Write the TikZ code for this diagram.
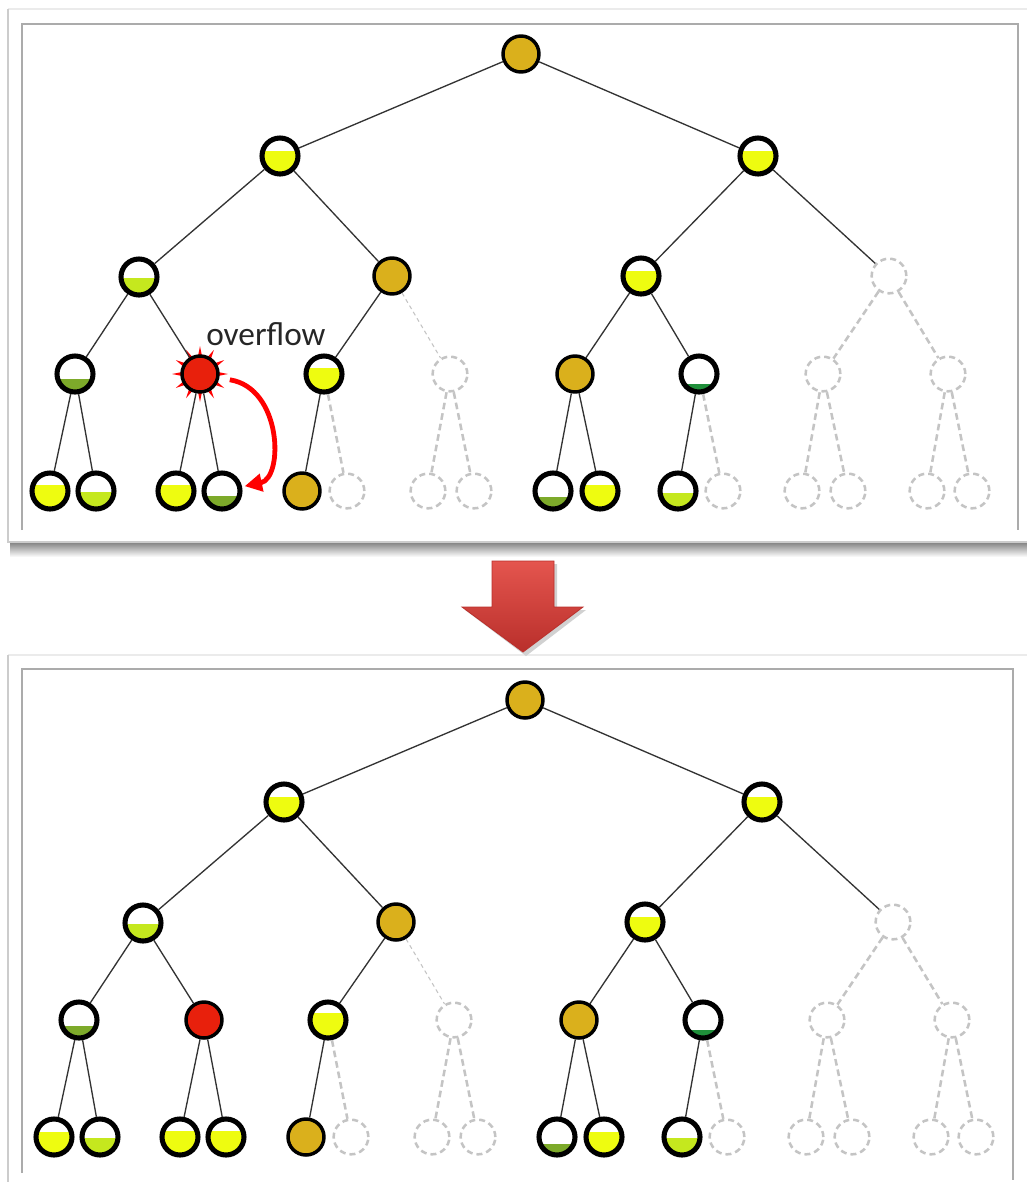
\documentclass[tikz,border=0pt]{standalone}
\usepackage{fontspec}
\setmainfont{Carlito}
\usetikzlibrary{arrows.meta,calc}
\definecolor{cgold}{HTML}{DAB01C}
\definecolor{cyel}{HTML}{EEFC10}
\definecolor{clg}{HTML}{C5E81E}
\definecolor{coli}{HTML}{7DAA2A}
\definecolor{cdk}{HTML}{1F8F3A}
\definecolor{cred}{HTML}{E8200C}
\definecolor{cghost}{HTML}{C4C4C4}
\definecolor{arrtop}{HTML}{E4554E}
\definecolor{arrbot}{HTML}{B92F2B}
\tikzset{
  nd/.style={circle, minimum size=27pt, inner sep=0pt, fill=white, draw=black, line width=3.8pt},
  lvl/.style 2 args={nd, path picture={\fill[#1] ([yshift=-3pt]path picture bounding box.south west) rectangle ([yshift={#2*27pt}]path picture bounding box.south east);}},
  full/.style={circle, minimum size=27pt, inner sep=0pt, fill=#1, draw=black, line width=2.6pt},
  ghost/.style={circle, minimum size=26pt, inner sep=0pt, fill=white, draw=cghost, line width=1.9pt, dash pattern=on 4.5pt off 3pt},
  edge/.style={draw=black!80, line width=1pt},
  thindash/.style={draw=cghost, line width=0.8pt, dash pattern=on 3pt off 2.5pt},
  thickdash/.style={draw=cghost, line width=1.9pt, dash pattern=on 5pt off 3pt},
  outerframe/.style={draw=black!20, line width=1.6pt},
  innerframe/.style={draw=black!33, line width=1.3pt},
  overflowarrow/.style={draw=red, line width=3.6pt, -{Triangle[length=13pt,width=13pt]}},
  spike/.style={fill=red},
}
\begin{document}
\begin{tikzpicture}[x=0.75pt,y=-0.75pt]
\useasboundingbox (0,0) rectangle (1027,1182);
% ---------- panel frames ----------
\shade[top color=black!50, bottom color=white] (10,542) rectangle (1027,557);
\draw[draw=black!8, line width=1pt] (8,9) -- (1027,9);
\draw[outerframe] (8,9) -- (8,542) -- (1027,542);
\draw[innerframe] (22,530) -- (22,24) -- (1018,24) -- (1018,530);
\draw[draw=black!8, line width=1pt] (8,655) -- (1027,655);
\draw[outerframe] (8,655) -- (8,1182);
\draw[innerframe] (22,1173) -- (22,669) -- (1013,669) -- (1013,1180);
% ---------- big arrow ----------
\fill[black!18] (495,564) -- (557,564) -- (557,610) -- (586,610) -- (526,656) -- (465,610) -- (495,610) -- cycle;
\shade[top color=arrtop, bottom color=arrbot, draw=arrbot, line width=0.6pt]
  (492,561) -- (554,561) -- (554,607) -- (583,607) -- (523,652) -- (462,607) -- (492,607) -- cycle;
% ---------- starburst ----------
\foreach \a in {0,30,...,330}
  \fill[spike] ($(200,374)+(\a-7:13pt)$) -- ($(200,374)+(\a:21pt)$) -- ($(200,374)+(\a+7:13pt)$) -- cycle;
% ---------- top tree ----------
\node[full=cgold] (t0) at (521,54) {};
\node[lvl={cyel}{0.64}] (t1a) at (280,156) {};
\node[lvl={cyel}{0.64}] (t1b) at (758,156) {};
\node[lvl={clg}{0.48}] (t2a) at (139,277) {};
\node[full=cgold] (t2b) at (392,276) {};
\node[lvl={cyel}{0.64}] (t2c) at (641,276) {};
\node[ghost] (t2d) at (889,276) {};
\node[lvl={coli}{0.35}] (t3a) at (75,374) {};
\node[full=cred] (t3b) at (200,374) {};
\node[lvl={cyel}{0.67}] (t3c) at (324,374) {};
\node[ghost] (t3d) at (450,374) {};
\node[full=cgold] (t3e) at (575,374) {};
\node[lvl={cdk}{0.22}] (t3f) at (699,374) {};
\node[ghost] (t3g) at (823,374) {};
\node[ghost] (t3h) at (948,374) {};
\node[lvl={cyel}{0.67}] (t4a) at (50,491) {};
\node[lvl={clg}{0.47}] (t4b) at (96,491) {};
\node[lvl={cyel}{0.67}] (t4c) at (176,491) {};
\node[lvl={coli}{0.36}] (t4d) at (222,491) {};
\node[full=cgold] (t4e) at (302,491) {};
\node[ghost] (t4f) at (347,491) {};
\node[ghost] (t4g) at (428,491) {};
\node[ghost] (t4h) at (474,491) {};
\node[lvl={coli}{0.33}] (t4i) at (553,491) {};
\node[lvl={cyel}{0.67}] (t4j) at (600,491) {};
\node[lvl={clg}{0.44}] (t4k) at (678,491) {};
\node[ghost] (t4l) at (723,491) {};
\node[ghost] (t4m) at (802,491) {};
\node[ghost] (t4n) at (848,491) {};
\node[ghost] (t4o) at (927,491) {};
\node[ghost] (t4p) at (972,491) {};
% ---------- bottom tree ----------
\begin{scope}[shift={(4,646)}]
\node[full=cgold] (b0) at (521,54) {};
\node[lvl={cyel}{0.64}] (b1a) at (280,156) {};
\node[lvl={cyel}{0.64}] (b1b) at (758,156) {};
\node[lvl={clg}{0.47}] (b2a) at (139,277) {};
\node[full=cgold] (b2b) at (392,276) {};
\node[lvl={cyel}{0.64}] (b2c) at (641,276) {};
\node[ghost] (b2d) at (889,276) {};
\node[lvl={coli}{0.33}] (b3a) at (75,374) {};
\node[full=cred] (b3b) at (200,374) {};
\node[lvl={cyel}{0.69}] (b3c) at (324,374) {};
\node[ghost] (b3d) at (450,374) {};
\node[full=cgold] (b3e) at (575,374) {};
\node[lvl={cdk}{0.22}] (b3f) at (699,374) {};
\node[ghost] (b3g) at (823,374) {};
\node[ghost] (b3h) at (948,374) {};
\node[lvl={cyel}{0.64}] (b4a) at (50,491) {};
\node[lvl={clg}{0.47}] (b4b) at (96,491) {};
\node[lvl={cyel}{0.67}] (b4c) at (176,491) {};
\node[lvl={cyel}{0.66}] (b4d) at (222,491) {};
\node[full=cgold] (b4e) at (302,491) {};
\node[ghost] (b4f) at (347,491) {};
\node[ghost] (b4g) at (428,491) {};
\node[ghost] (b4h) at (474,491) {};
\node[lvl={coli}{0.30}] (b4i) at (553,491) {};
\node[lvl={cyel}{0.64}] (b4j) at (600,491) {};
\node[lvl={clg}{0.47}] (b4k) at (678,491) {};
\node[ghost] (b4l) at (723,491) {};
\node[ghost] (b4m) at (802,491) {};
\node[ghost] (b4n) at (848,491) {};
\node[ghost] (b4o) at (927,491) {};
\node[ghost] (b4p) at (972,491) {};
\end{scope}
% ---------- connectors ----------
\foreach \p in {t,b} {
  \foreach \u/\v in {0/1a,0/1b,1a/2a,1a/2b,1b/2c,1b/2d,2a/3a,2a/3b,2b/3c,2c/3e,2c/3f,3a/4a,3a/4b,3b/4c,3b/4d,3c/4e,3e/4i,3e/4j,3f/4k}
    \draw[edge] (\p\u) -- (\p\v);
  \draw[thindash] (\p2b) -- (\p3d);
  \foreach \u/\v in {3c/4f,3d/4g,3d/4h,3f/4l,2d/3g,2d/3h,3g/4m,3g/4n,3h/4o,3h/4p}
    \draw[thickdash] (\p\u) -- (\p\v);
}
% ---------- overflow label and arrow ----------
\node[anchor=base west, inner sep=0pt, text=black!85, font=\fontsize{25}{30}\selectfont] (ovf) at (206,345) {overflow};
\draw[overflowarrow, shorten <=8pt, shorten >=2pt] (t3b.-12) .. controls (282,388) and (284,478) .. (t4d.12);
\end{tikzpicture}
\end{document}
